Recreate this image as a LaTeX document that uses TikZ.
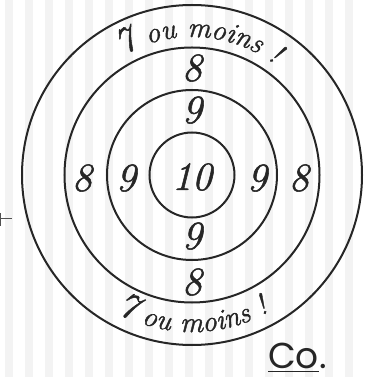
\documentclass[tikz,border=0pt]{standalone}
\usepackage{fontspec}
\newfontfamily\cofont{Poppins}
\newfontfamily\handfont{Latin Modern Roman}[FakeBold=1.3]
\usetikzlibrary{positioning,decorations.text}
\definecolor{ink}{HTML}{262626}
\definecolor{stripe}{HTML}{F3F3F3}
\newcommand{\bandfont}{\handfont\fontsize{29}{29}\selectfont\itshape}
\newcommand{\sevenfont}{\handfont\fontsize{37}{37}\selectfont\itshape}

\begin{document}
\begin{tikzpicture}[x=1pt,y=1pt,
ring/.style={draw=ink,circle,line width=2pt,inner sep=0pt},
num/.style={text=ink,inner sep=0pt,font=\handfont\fontsize{40}{40}\selectfont\itshape},
band/.style={decorate,decoration={text along path,text align=center,
  text color=ink,text={|\sevenfont|7|\bandfont| ou moins !}}}]
\useasboundingbox (-192,-202) rectangle (173,175);
% striped paper
\foreach \k in {0,...,17}
  \fill[stripe] ({-187+20*\k},-202) rectangle ++(8,377);
% target
\node[ring,minimum size=85pt] (bull) at (0,0) {};
\node[ring,minimum size=170pt] (inner) at (0,0) {};
\node[ring,minimum size=255pt] (middle) at (0,0) {};
\node[ring,minimum size=340pt] (outer) at (0,0) {};
\node[num] (ten) at (0,-2) {10};
\node[num] (nineN) at (0,65) {9};
\node[num] (nineS) at (0,-61) {9};
\node[num] (nineW) at (-66,-3) {9};
\node[num] (nineE) at (65,-3) {9};
\node[num] (eightN) at (0,107) {8};
\node[num] (eightS) at (0,-107) {8};
\node[num] (eightW) at (-110,-3) {8};
\node[num] (eightE) at (107,-3) {8};
\path[band] (133:138pt) arc[start angle=133,end angle=41,radius=138pt];
\path[band] (225:157pt) arc[start angle=225,end angle=315,radius=157pt];
% signature
\node[text=ink,inner sep=0pt,anchor=base west,font=\cofont\fontsize{36}{36}\selectfont]
  (co) at (76,-193) {Co};
\node[text=ink,inner sep=0pt,anchor=base west,font=\cofont\fontsize{36}{36}\selectfont]
  (dot) at (co.base east) {.};
\draw[ink,line width=1.5pt] ([yshift=-3.5pt]co.base west)--([yshift=-3.5pt]co.base east);
% cut-off mark on the left
\draw[ink!80,line width=1pt] (-192,-44)--(-180,-44) (-191,-38)--(-191,-51);
\end{tikzpicture}
\end{document}
